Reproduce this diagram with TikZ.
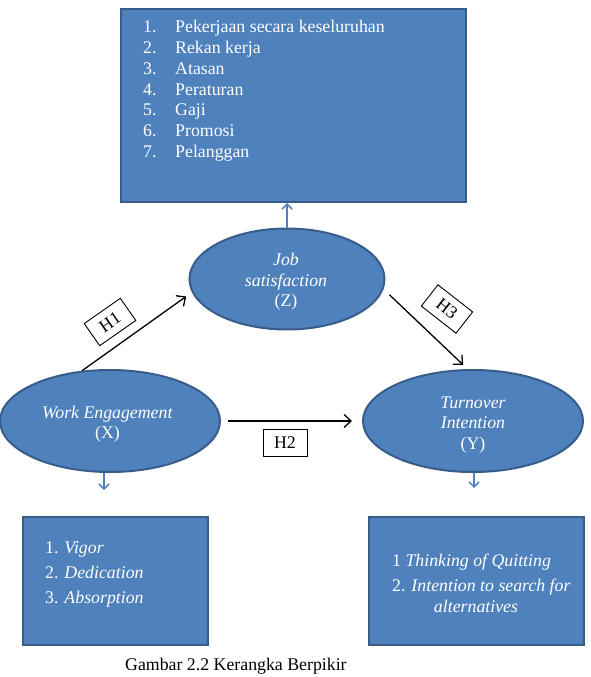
\documentclass[tikz,border=0pt]{standalone}
\usepackage{fontspec}
\setmainfont{Liberation Serif}
\usetikzlibrary{arrows.meta,shapes.geometric}
\definecolor{fillblue}{HTML}{4F81BD}
\definecolor{edgeblue}{HTML}{385D8A}
\begin{document}
\begin{tikzpicture}[x=1pt,y=-1pt,
  bluebox/.style={draw=edgeblue, fill=fillblue, line width=2pt, inner sep=0pt, anchor=north west},
  oval/.style={ellipse, draw=edgeblue, fill=fillblue, line width=2pt, inner sep=0pt},
  ovaltext/.style={text=white, align=center, inner sep=0pt, font=\fontsize{17.8}{20.5}\selectfont},
  listtext/.style={text=white, inner sep=0pt, anchor=base west, font=\fontsize{17.8}{20.7}\selectfont},
  hbox/.style={draw=black, line width=0.9pt, fill=white, minimum width=44pt, minimum height=27pt, inner sep=0pt, font=\fontsize{17.8}{20}\selectfont},
  mainarrow/.style={draw=black, line width=1.3pt, -{Straight Barb[length=7pt,width=13pt]}},
  smallarrow/.style={draw=fillblue, line width=1.5pt, -{Straight Barb[length=5pt,width=10pt]}},
  captiontext/.style={inner sep=0pt, anchor=base west, font=\fontsize{17.8}{20.7}\selectfont}
]
\useasboundingbox (0,0) rectangle (591,677);
\fill[white] (0,0) rectangle (591,677);

% boxes
\node[bluebox, minimum width=345pt, minimum height=193pt] (top) at (120,8) {};
\node[bluebox, minimum width=185pt, minimum height=128pt] (lbox) at (22,516) {};
\node[bluebox, minimum width=215pt, minimum height=128pt] (rbox) at (368,516) {};

% ellipses
\node[oval, minimum width=220pt, minimum height=102pt] (we) at (110,421) {};
\node[oval, minimum width=195pt, minimum height=101pt] (job) at (287,279) {};
\node[oval, minimum width=220pt, minimum height=102pt] (to) at (473,421) {};

\node[ovaltext] (wet) at (107.5,424) {\textit{Work Engagement}\\(X)};
\node[ovaltext] (jobt) at (286,282) {\textit{Job}\\\textit{satisfaction}\\(Z)};
\node[ovaltext] (tot) at (473,425) {\textit{Turnover}\\\textit{Intention}\\(Y)};

% top list
\foreach \t [count=\i] in {Pekerjaan secara keseluruhan, Rekan kerja, Atasan, Peraturan, Gaji, Promosi, Pelanggan}{
  \node[listtext] (num\i) at (143,{33+20.7*(\i-1)}) {\i.};
  \node[listtext] (item\i) at (175,{33+20.7*(\i-1)}) {\t};
}

% left list
\node[listtext] (l1) at (45,553.5) {1. \textit{Vigor}};
\node[listtext] (l2) at (45,578.5) {2. \textit{Dedication}};
\node[listtext] (l3) at (45,603.5) {3. \textit{Absorption}};

% right list
\node[listtext] (r1) at (392,566) {1 \textit{Thinking of Quitting}};
\node[listtext] (r2) at (392,591.5) {2. \textit{Intention to search for}};
\node[listtext, anchor=base] (r3) at (476,612) {\textit{alternatives}};

% caption
\node[captiontext] (cap) at (125,670) {Gambar 2.2 Kerangka Berpikir};

% main arrows
\draw[mainarrow, shorten >=7pt] (we.119) -- (job.188);
\draw[mainarrow, shorten <=7pt, shorten >=10pt] (we.east) -- (to.west);
\draw[mainarrow, shorten <=8pt, shorten >=6pt] (job.-6) -- (to.96);

% labels
\node[hbox, rotate=35] (h1) at (110,322) {H1};
\node[hbox] (h2) at (285,443) {H2};
\node[hbox, rotate=-38] (h3) at (447,309) {H3};

% small arrows
\draw[smallarrow] (job.north) -- (job.north |- top.south);
\coordinate (weend) at (104,490);
\draw[smallarrow] (we.south -| weend) -- (weend);
\coordinate (toend) at (474,488);
\draw[smallarrow] (to.south -| toend) -- (toend);
\end{tikzpicture}
\end{document}
